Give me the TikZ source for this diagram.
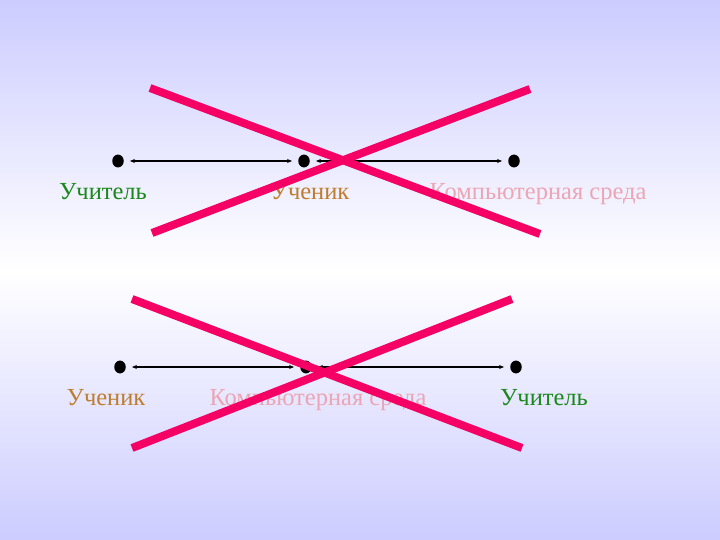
\documentclass[tikz,border=0pt]{standalone}
\usepackage{fontspec}
\setmainfont{Liberation Serif}
\usetikzlibrary{arrows.meta}
\definecolor{bgl}{RGB}{204,204,255}
\definecolor{crossc}{RGB}{245,0,100}
\definecolor{teachc}{RGB}{25,135,25}
\definecolor{pupilc}{RGB}{190,125,45}
\definecolor{compc}{RGB}{235,165,180}
\begin{document}
\begin{tikzpicture}[x=1pt,y=-1pt,
  dotn/.style={circle,fill=black,inner sep=0pt,minimum width=11.5pt,minimum height=11.5pt,yscale=1.12},
  lbl/.style={font=\fontsize{24.5}{28}\selectfont,inner sep=0pt,anchor=base},
  link/.style={line width=1.4pt,{Stealth[length=5pt,width=4pt]}-{Stealth[length=5pt,width=4pt]},shorten <=6pt,shorten >=6pt},
  strike/.style={line width=8pt,crossc}]
\shade[top color=bgl,bottom color=bgl,middle color=white] (0,0) rectangle (720,540);
\useasboundingbox (0,0) rectangle (720,540);
% top row
\node[dotn] (a1) at (118,161) {};
\node[dotn] (a2) at (304,161) {};
\node[dotn] (a3) at (514,161) {};
\draw[link] (a1) -- (a2);
\draw[link] (a2) -- (a3);
\node[lbl,teachc] (t1) at (103,200) {Учитель};
\node[lbl,pupilc] (t2) at (310,200) {Ученик};
\node[lbl,compc] (t3) at (538,200) {Компьютерная среда};
\coordinate (c1a) at (150,88);
\coordinate (c1b) at (540,234);
\coordinate (c1c) at (152,233);
\coordinate (c1d) at (530,89);
\draw[strike] (c1a) -- (c1b);
\draw[strike] (c1c) -- (c1d);
% bottom row
\node[dotn] (b1) at (120,367) {};
\node[dotn] (b2) at (306,367) {};
\node[dotn] (b3) at (516,367) {};
\node[lbl,pupilc] (s1) at (106,405) {Ученик};
\node[lbl,compc] (s2) at (318,405) {Компьютерная среда};
\node[lbl,teachc] (s3) at (544,405) {Учитель};
\draw[link] (b1) -- (b2);
\draw[link] (b2) -- (b3);
\coordinate (c2a) at (132,299);
\coordinate (c2b) at (522,448);
\coordinate (c2c) at (132,448);
\coordinate (c2d) at (512,299);
\draw[strike] (c2a) -- (c2b);
\draw[strike] (c2c) -- (c2d);
\end{tikzpicture}
\end{document}
